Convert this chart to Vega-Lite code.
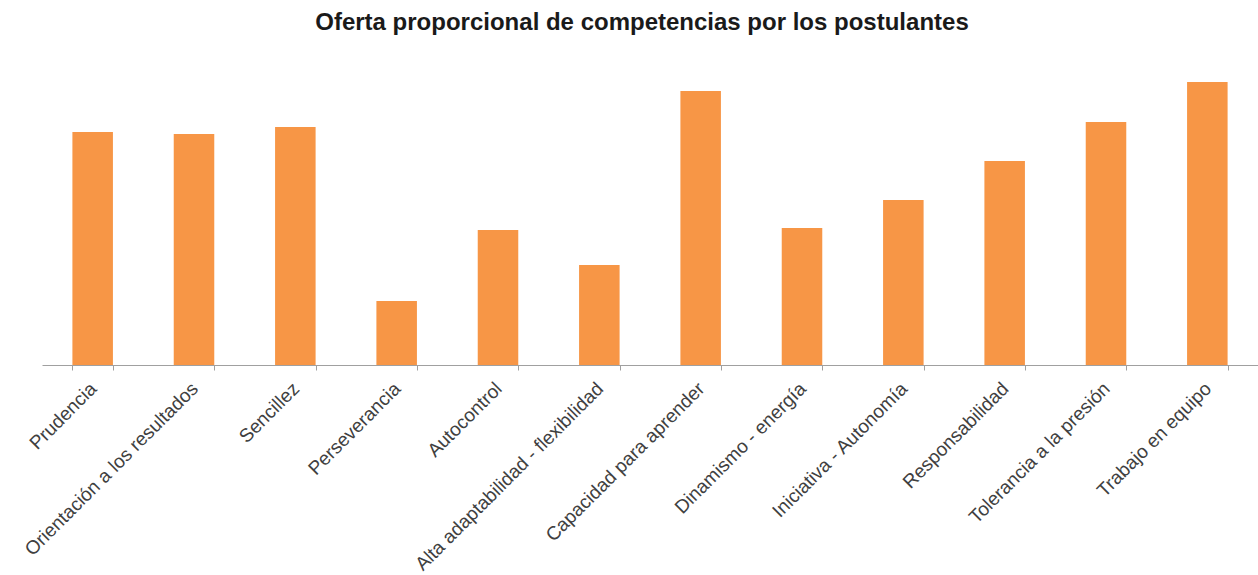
{
  "$schema": "https://vega.github.io/schema/vega-lite/v6.json",
  "width": 1216,
  "height": 300,
  "autosize": {"type": "none"},
  "padding": {"left": 42, "top": 65, "right": 0, "bottom": 210},
  "background": "white",
  "title": {
    "text": "Oferta proporcional de competencias por los postulantes",
    "font": "Liberation Sans",
    "fontSize": 24,
    "fontWeight": "bold",
    "color": "#1a1a1a",
    "anchor": "middle",
    "offset": 30,
    "dx": -8
  },
  "data": {
    "values": [
      {"competencia": "Prudencia", "valor": 233},
      {"competencia": "Orientación a los resultados", "valor": 231},
      {"competencia": "Sencillez", "valor": 238},
      {"competencia": "Perseverancia", "valor": 64},
      {"competencia": "Autocontrol", "valor": 135},
      {"competencia": "Alta adaptabilidad - flexibilidad", "valor": 100},
      {"competencia": "Capacidad para aprender", "valor": 274},
      {"competencia": "Dinamismo - energía", "valor": 137},
      {"competencia": "Iniciativa - Autonomía", "valor": 165},
      {"competencia": "Responsabilidad", "valor": 204},
      {"competencia": "Tolerancia a la presión", "valor": 243},
      {"competencia": "Trabajo en equipo", "valor": 283}
    ]
  },
  "mark": {"type": "bar", "color": "#F79646"},
  "encoding": {
    "x": {
      "field": "competencia",
      "type": "nominal",
      "sort": null,
      "scale": {"paddingInner": 0.6, "paddingOuter": 0.3},
      "axis": {
        "title": null,
        "labelAngle": -45,
        "tickBand": "extent",
        "domainColor": "#a0a0a0",
        "tickColor": "#a0a0a0",
        "tickSize": 5,
        "labelFont": "Liberation Sans",
        "labelFontSize": 19,
        "labelColor": "#404040",
        "labelPadding": 9,
        "labelOffset": -6,
        "labelLimit": 400
      }
    },
    "y": {
      "field": "valor",
      "type": "quantitative",
      "scale": {"domain": [0, 300]},
      "axis": null
    }
  },
  "config": {"view": {"stroke": null}}
}
